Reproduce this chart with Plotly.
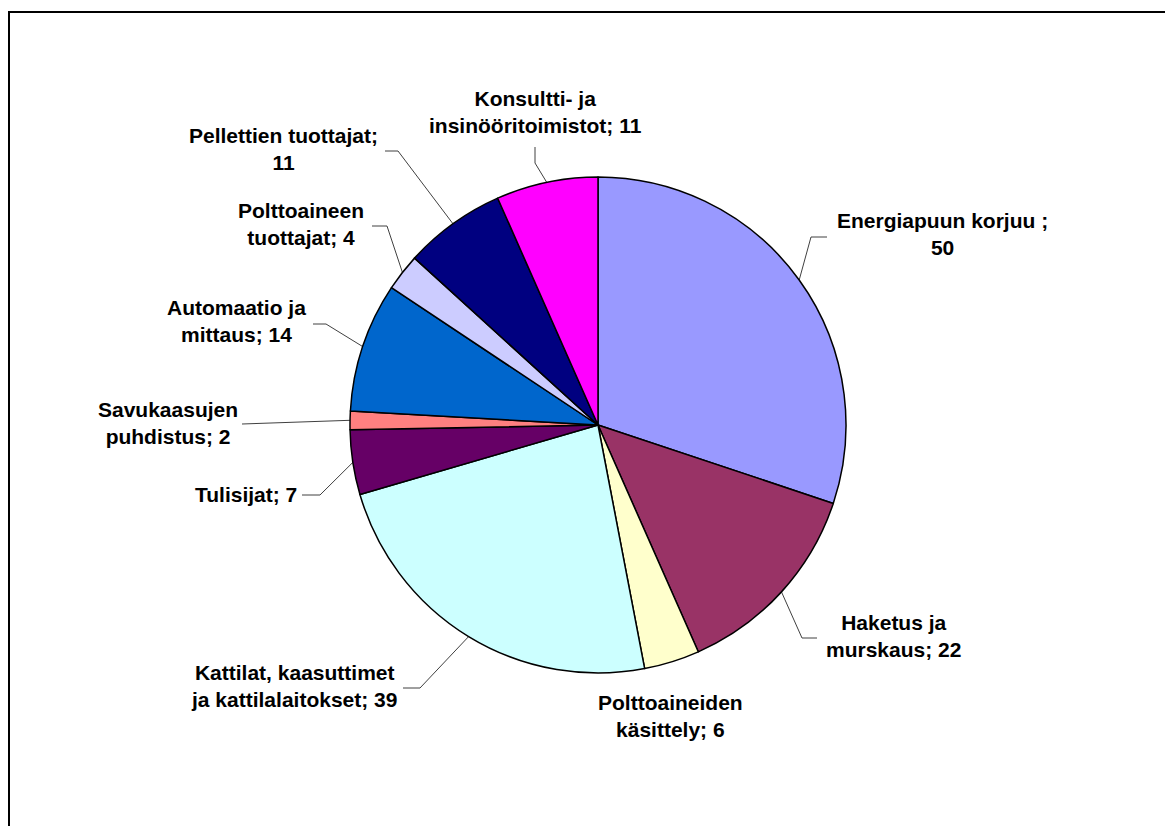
import math
import plotly.graph_objects as go

# ---- data ----
categories = [
    "Energiapuun korjuu",
    "Haketus ja murskaus",
    "Polttoaineiden käsittely",
    "Kattilat, kaasuttimet ja kattilalaitokset",
    "Tulisijat",
    "Savukaasujen puhdistus",
    "Automaatio ja mittaus",
    "Polttoaineen tuottajat",
    "Pellettien tuottajat",
    "Konsultti- ja insinööritoimistot",
]
values = [50, 22, 6, 39, 7, 2, 14, 4, 11, 11]
label_texts = [
    "Energiapuun korjuu ;<br>50",
    "Haketus ja<br>murskaus; 22",
    "Polttoaineiden<br>käsittely; 6",
    "Kattilat, kaasuttimet<br>ja kattilalaitokset; 39",
    "Tulisijat; 7",
    "Savukaasujen<br>puhdistus; 2",
    "Automaatio ja<br>mittaus; 14",
    "Polttoaineen<br>tuottajat; 4",
    "Pellettien tuottajat;<br>11",
    "Konsultti- ja<br>insinööritoimistot; 11",
]
colors = ["#9999FF", "#993366", "#FFFFCC", "#CCFFFF", "#660066",
          "#FF8080", "#0066CC", "#CCCCFF", "#000080", "#FF00FF"]

# ---- layout constants (pixels, in page coordinates) ----
PAGE_W, PAGE_H = 1173, 834
OFF = 8                      # default body margin of the html page
W, H = PAGE_W - 2 * OFF, PAGE_H - 2 * OFF
CX, CY, R = 598 - OFF, 425 - OFF, 248

# label centres (page coords)
label_pos = [(942, 234), (893, 636), (670, 716), (294, 686), (246, 494),
             (168, 423), (236, 321), (301, 224), (283, 149), (535, 112)]
# leader: start point (near label) and elbow; None = no leader
leaders = [
    ((827, 237), (811, 237)),
    ((817, 638), (802, 638)),
    None,
    ((403, 688), (420, 688)),
    ((302, 495), (320, 495)),
    ((242, 424), (242, 424)),
    ((313, 324), (326, 324)),
    ((372, 226), (387, 226)),
    ((385, 151), (398, 151)),
    ((535, 147), (535, 163)),
]

fig = go.Figure()

fig.add_trace(go.Pie(
    labels=categories, values=values, sort=False, direction="clockwise",
    rotation=0, textinfo="none", hoverinfo="label+value",
    marker=dict(colors=colors, line=dict(color="black", width=1.5)),
    domain=dict(x=[(CX - R) / W, (CX + R) / W],
                y=[(H - CY - R) / H, (H - CY + R) / H]),
    showlegend=False,
))

# leader lines, ending at slice mid-angle on the pie edge
total = sum(values)
cum = 0
for i, v in enumerate(values):
    mid = (cum + v / 2) / total * 2 * math.pi
    cum += v
    if leaders[i] is None:
        continue
    ex = CX + R * math.sin(mid)
    ey = CY - R * math.cos(mid)
    (sx, sy), (bx, by) = leaders[i]
    fig.add_trace(go.Scatter(
        x=[sx - OFF, bx - OFF, ex], y=[sy - OFF, by - OFF, ey], mode="lines",
        line=dict(color="#404040", width=1), hoverinfo="skip",
        showlegend=False, xaxis="x", yaxis="y"))

for (lx, ly), t in zip(label_pos, label_texts):
    fig.add_annotation(
        x=lx - OFF, y=ly - OFF, xref="x", yref="y", text="<b>" + t + "</b>",
        showarrow=False, align="center", xanchor="center", yanchor="middle",
        font=dict(family="Liberation Sans, Arial", size=21, color="black"))

fig.add_shape(type="rect", xref="x", yref="y", x0=9 - OFF, y0=12 - OFF,
              x1=W + 20, y1=H + 20,
              line=dict(color="black", width=2), fillcolor="rgba(0,0,0,0)")

fig.update_layout(
    width=W, height=H, margin=dict(l=0, r=0, t=0, b=0),
    paper_bgcolor="white", plot_bgcolor="rgba(0,0,0,0)",
    xaxis=dict(range=[0, W], visible=False, domain=[0, 1], fixedrange=True),
    yaxis=dict(range=[H, 0], visible=False, domain=[0, 1], fixedrange=True),
)

fig.write_html("out.html")
